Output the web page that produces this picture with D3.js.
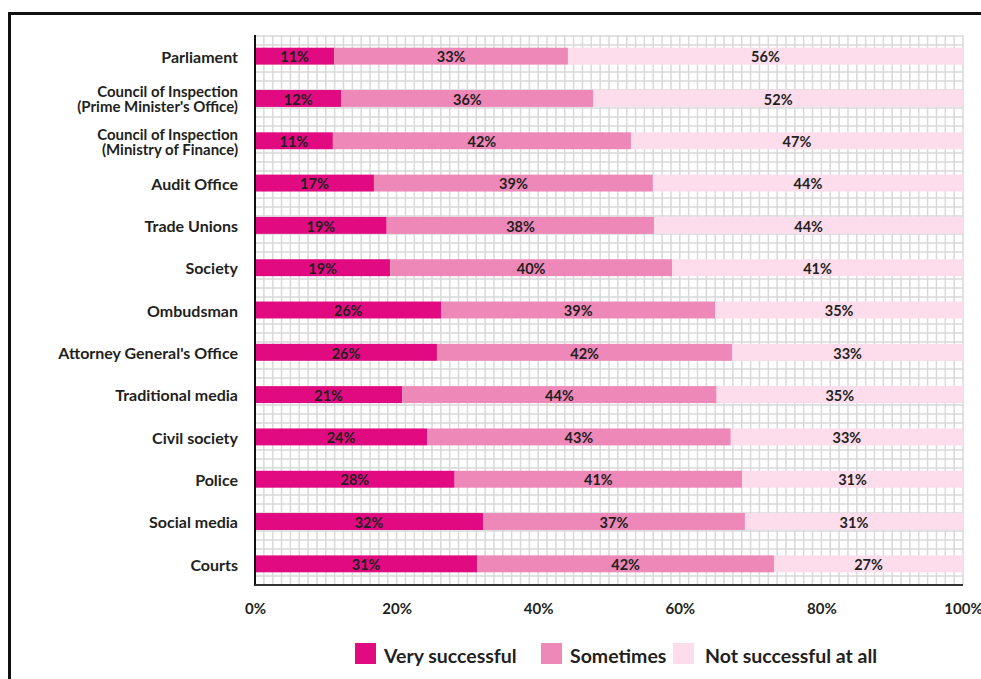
<!DOCTYPE html>
<html>
<head>
<meta charset="utf-8">
<script src="https://cdn.jsdelivr.net/npm/d3@7"></script>
<style>
  body { margin: 0; background: #fff; }
  svg { display: block; font-family: Lato, "Open Sans", sans-serif; }
</style>
</head>
<body>
<div id="chart"></div>
<script>
// categories, top to bottom (multi-line labels split with \n)
const categories = [
  "Parliament",
  "Council of Inspection\n(Prime Minister's Office)",
  "Council of Inspection\n(Ministry of Finance)",
  "Audit Office",
  "Trade Unions",
  "Society",
  "Ombudsman",
  "Attorney General's Office",
  "Traditional media",
  "Civil society",
  "Police",
  "Social media",
  "Courts"
];

// shares in percent
const verySuccessful = [11.2, 12.2, 11.0, 16.8, 18.6, 19.1, 26.3, 25.7, 20.8, 24.3, 28.2, 32.2, 31.4];
const sometimes      = [33.0, 35.6, 42.1, 39.4, 37.8, 39.8, 38.7, 41.7, 44.4, 42.9, 40.6, 37.0, 41.9];
const notSuccessful  = [55.8, 52.2, 46.9, 43.8, 43.6, 41.1, 35.0, 32.6, 34.8, 32.8, 31.2, 30.8, 26.7];

const seriesNames = ["Very successful", "Sometimes", "Not successful at all"];
const xTicks = [0, 20, 40, 60, 80, 100];

const colors = ["#e20a80", "#ee88b9", "#fddcec"];

const W = 981, H = 679;
const margin = { top: 35, right: 18, bottom: 94, left: 255 };
const width = W - margin.left - margin.right;
const height = H - margin.top - margin.bottom;

// build rows for the stack
const rows = categories.map((c, i) => ({
  category: c,
  [seriesNames[0]]: verySuccessful[i],
  [seriesNames[1]]: sometimes[i],
  [seriesNames[2]]: notSuccessful[i]
}));

const svg = d3.select("#chart")
  .append("svg")
  .attr("width", W)
  .attr("height", H);

// outer frame (runs off the right and bottom edges)
svg.append("rect")
  .attr("x", 9.5)
  .attr("y", 13.5)
  .attr("width", W + 20)
  .attr("height", H + 20)
  .attr("fill", "none")
  .attr("stroke", "#111")
  .attr("stroke-width", 3);

const g = svg.append("g")
  .attr("transform", `translate(${margin.left},${margin.top})`);

const x = d3.scaleLinear().domain([0, 100]).range([0, width]);
const y = d3.scaleBand().domain(categories).range([0, height]).paddingInner(0.6).paddingOuter(0.3);

// fine grid paper behind the bars
const grid = g.append("g").attr("class", "grid");
grid.selectAll("line.v")
  .data(d3.range(1.25, 100.01, 1.25))
  .enter().append("line")
  .attr("class", "v")
  .attr("x1", d => x(d)).attr("x2", d => x(d))
  .attr("y1", 0).attr("y2", height)
  .attr("stroke", "#d9d9d9")
  .attr("stroke-width", 1.5);
grid.selectAll("line.h")
  .data(d3.range(1, Math.floor(height / 9) + 1))
  .enter().append("line")
  .attr("class", "h")
  .attr("x1", 0).attr("x2", width)
  .attr("y1", d => height - d * 9).attr("y2", d => height - d * 9)
  .attr("stroke", "#d9d9d9")
  .attr("stroke-width", 1.5);

// stacked bars
const stack = d3.stack().keys(seriesNames);
const layers = stack(rows);

const layer = g.selectAll(".layer")
  .data(layers)
  .enter().append("g")
  .attr("class", "layer")
  .attr("fill", (d, i) => colors[i]);

layer.selectAll("rect")
  .data(d => d)
  .enter().append("rect")
  .attr("x", d => x(d[0]))
  .attr("y", d => y(d.data.category))
  .attr("width", d => x(d[1]) - x(d[0]))
  .attr("height", y.bandwidth());

const fmt = d => d3.format(".0f")(d) + "%";

layer.selectAll("text")
  .data(d => d.map(p => ({ p, key: d.key })))
  .enter().append("text")
  .attr("x", d => (x(d.p[0]) + x(d.p[1])) / 2)
  .attr("y", d => y(d.p.data.category) + y.bandwidth() / 2 + 1)
  .attr("dy", "0.36em")
  .attr("text-anchor", "middle")
  .attr("font-size", 14.5)
  .attr("font-weight", 700)
  .attr("fill", "#231f20")
  .text(d => fmt(d.p[1] - d.p[0]));

// axes lines
g.append("line")
  .attr("x1", 0).attr("x2", 0)
  .attr("y1", 0).attr("y2", height + 1)
  .attr("stroke", "#111").attr("stroke-width", 2);
g.append("line")
  .attr("x1", 0).attr("x2", width)
  .attr("y1", height).attr("y2", height)
  .attr("stroke", "#333").attr("stroke-width", 2);

// x tick labels
const xAxis = d3.axisBottom(x).tickValues(xTicks).tickSize(0).tickPadding(18).tickFormat(d => d + "%");
g.append("g")
  .attr("transform", `translate(0,${height})`)
  .call(xAxis)
  .call(s => s.select(".domain").remove())
  .selectAll("text")
  .attr("font-family", "Lato, sans-serif")
  .attr("font-size", 15)
  .attr("font-weight", 700)
  .attr("fill", "#231f20");

// category labels
const yAxis = d3.axisLeft(y).tickSize(0).tickPadding(17).tickFormat("");
const yg = g.append("g").call(yAxis);
yg.select(".domain").remove();
yg.selectAll(".tick").each(function (d) {
  const lines = d.split("\n");
  const lh = 15;
  lines.forEach((ln, i) => {
    d3.select(this).append("text")
      .attr("x", -17)
      .attr("y", (i - (lines.length - 1) / 2) * lh + 1)
      .attr("dy", "0.36em")
      .attr("text-anchor", "end")
      .attr("font-family", "Lato, sans-serif")
      .attr("font-size", lines.length > 1 ? 15 : 16)
      .attr("font-weight", 700)
      .attr("fill", "#231f20")
      .text(ln);
  });
});

// legend
const legendX = [355, 541, 673];
const legend = svg.append("g").attr("class", "legend");
seriesNames.forEach((name, i) => {
  legend.append("rect")
    .attr("x", legendX[i]).attr("y", 643)
    .attr("width", 21).attr("height", 21)
    .attr("fill", colors[i]);
  legend.append("text")
    .attr("x", legendX[i] + (i === 2 ? 32 : 29))
    .attr("y", 663)
    .attr("font-size", 19.5)
    .attr("font-weight", 700)
    .attr("fill", "#231f20")
    .text(name);
});
</script>
</body>
</html>
